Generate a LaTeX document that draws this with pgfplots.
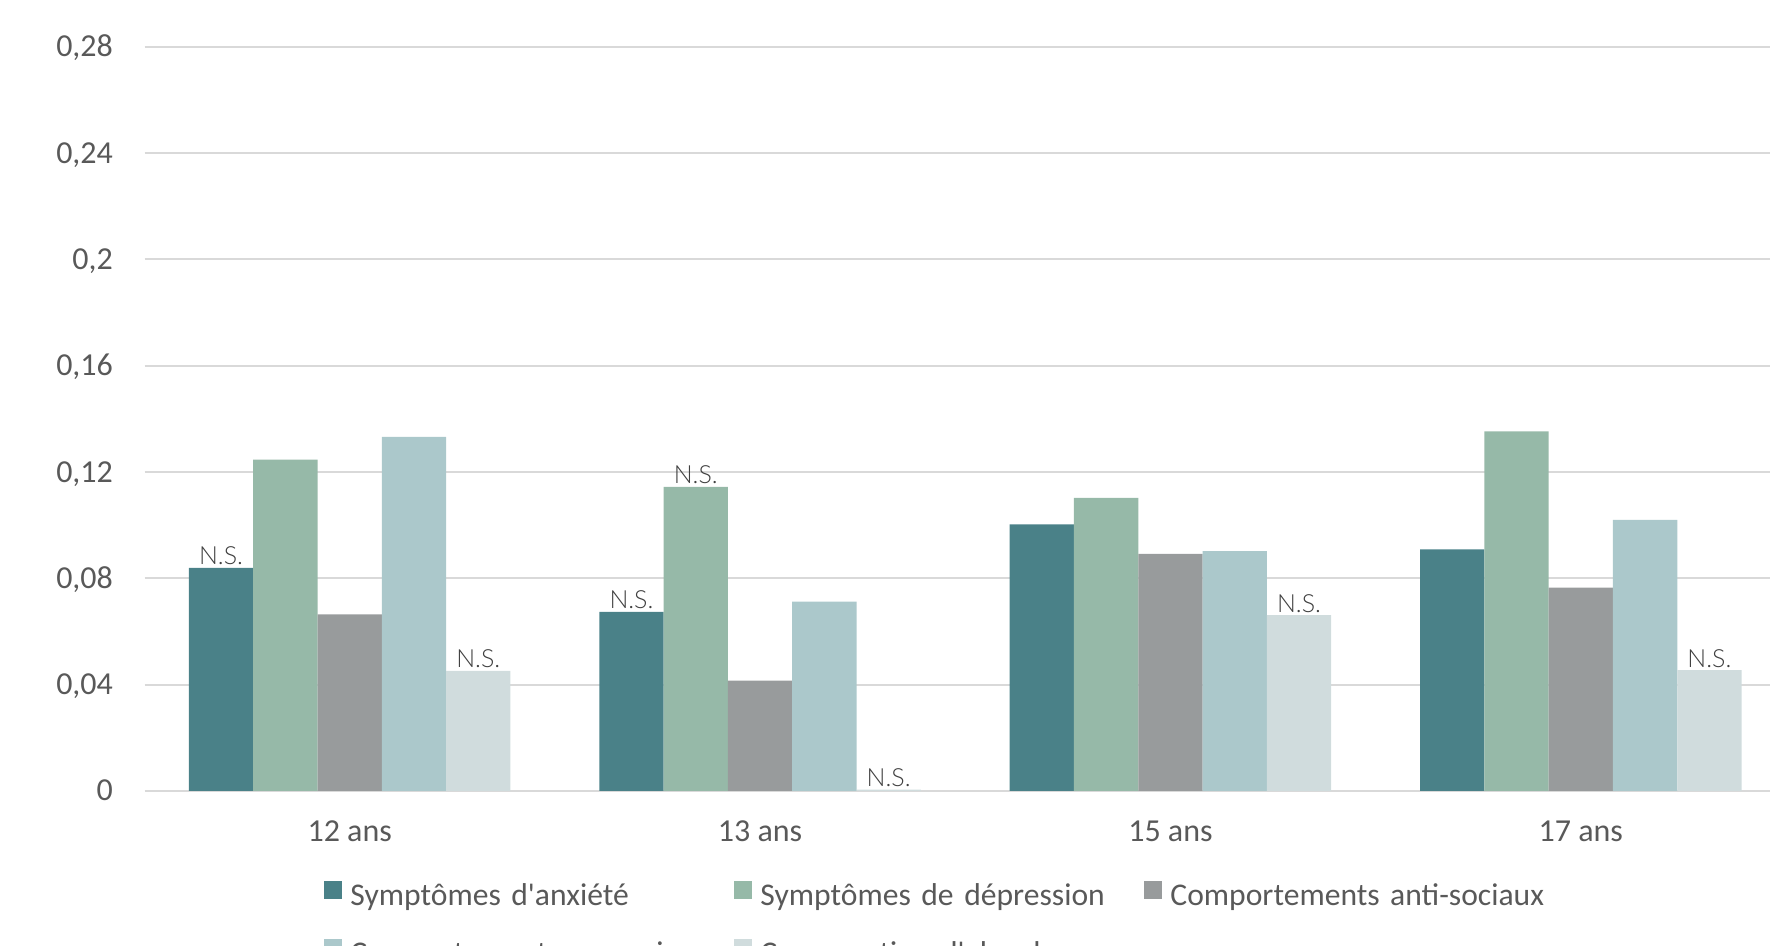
\documentclass[border=0pt]{standalone}
\usepackage{fontspec}
\setmainfont{Carlito}
\newfontfamily\nsfont{Lato}[UprightFont=* Light]
\usepackage{pgfplots}
\pgfplotsset{compat=1.18}
\definecolor{cA}{HTML}{4A8188}
\definecolor{cB}{HTML}{96B9A8}
\definecolor{cC}{HTML}{989B9C}
\definecolor{cD}{HTML}{ABC8CB}
\definecolor{cE}{HTML}{D0DCDD}
\definecolor{gridc}{HTML}{D9D9D9}
\definecolor{txt}{HTML}{595959}
\definecolor{nstxt}{HTML}{404040}
\pgfplotsset{myleg/.style={legend image code/.code={\fill[##1] (0pt,0pt) rectangle (9pt,9pt);}}}
\begin{document}
\begin{tikzpicture}
\useasboundingbox (0,0) rectangle (885pt,473pt);
\clip (0,0) rectangle (885pt,473pt);
\begin{axis}[
  at={(72.25pt,77.5pt)}, anchor=south west,
  scale only axis, width=820.75pt, height=372.15pt,
  ybar=0pt, bar width=32.15pt,
  xmin=-0.5, xmax=3.5, ymin=0, ymax=0.28,
  xtick={0,1,2,3}, xticklabels={12 ans,13 ans,15 ans,17 ans},
  ytick={0,0.04,0.08,0.12,0.16,0.2,0.24,0.28},
  yticklabels={0,{0,04},{0,08},{0,12},{0,16},{0,2},{0,24},{0,28}},
  ymajorgrids, grid style={gridc, line width=0.9pt},
  axis line style={draw=none}, major tick length=0pt,
  tick label style={font=\fontsize{16}{19}\selectfont, text=txt},
  yticklabel style={anchor=base east, inner sep=0pt, xshift=-15.6pt, yshift=-5pt},
  xticklabel style={anchor=base, inner sep=0pt, yshift=-25.5pt},
  nodes near coords, point meta=explicit symbolic,
  every node near coord/.append style={font=\nsfont\fontsize{12.5}{14}\selectfont, text=nstxt, inner sep=0pt, yshift=1.2pt},
  legend columns=3,
  legend style={draw=none, fill=none, at={(axis description cs:0.1094,-0.1203)}, anchor=north west,
    inner sep=0pt, row sep=13.5pt, column sep=0pt, font=\fontsize{15.8}{19}\selectfont, text=txt,
    nodes={inner sep=0pt, text width=192pt, align=left, text height=10pt, text depth=3.5pt},
    /tikz/every odd column/.append style={column sep=4pt}},
]
\addplot[fill=cA, draw=none, myleg] coordinates {(0,0.0839)[N.S.] (1,0.0674)[N.S.] (2,0.1003)[] (3,0.0909)[]};
\addlegendentry{Symptômes d\textquotesingle anxiété}
\addplot[fill=cB, draw=none, myleg] coordinates {(0,0.1247)[] (1,0.1144)[N.S.] (2,0.1103)[] (3,0.1353)[]};
\addlegendentry{Symptômes de dépression}
\addplot[fill=cC, draw=none, myleg] coordinates {(0,0.0664)[] (1,0.0415)[] (2,0.0892)[] (3,0.0765)[]};
\addlegendentry{Comportements anti-sociaux}
\addplot[fill=cD, draw=none, myleg] coordinates {(0,0.1332)[] (1,0.0712)[] (2,0.0902)[] (3,0.1020)[]};
\addlegendentry{Comportements prosociaux}
\addplot[fill=cE, draw=none, myleg] coordinates {(0,0.0452)[N.S.] (1,0.0005)[N.S.] (2,0.0662)[N.S.] (3,0.0455)[N.S.]};
\addlegendentry{Consomation d\textquotesingle alcool}
\end{axis}
\end{tikzpicture}
\end{document}
